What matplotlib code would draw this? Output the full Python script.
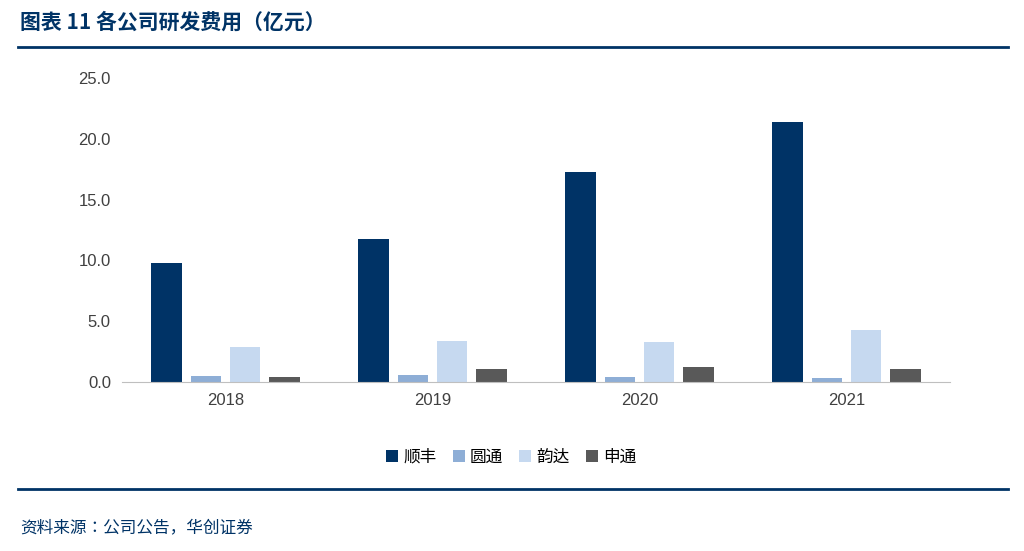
import matplotlib
matplotlib.use("Agg")
import matplotlib.pyplot as plt
from matplotlib import font_manager
import numpy as np
from matplotlib.lines import Line2D

# pick whichever CJK family the font manager actually knows
cjk = [f.name for f in font_manager.fontManager.ttflist if "CJK" in f.name]
pref = [n for n in ["Noto Sans CJK SC", "Noto Sans CJK JP", "Noto Sans CJK TC", "Noto Sans CJK KR"] if n in cjk]
family = (pref or cjk or ["DejaVu Sans"])[:1]
plt.rcParams["font.family"] = family + ["DejaVu Sans"]
plt.rcParams["font.sans-serif"] = family + ["DejaVu Sans"]

years = ["2018", "2019", "2020", "2021"]
companies = ["顺丰", "圆通", "韵达", "申通"]
sf = [9.8, 11.8, 17.3, 21.4]
yto = [0.5, 0.6, 0.4, 0.3]
yunda = [2.9, 3.4, 3.3, 4.3]
sto = [0.4, 1.1, 1.2, 1.1]
colors = ["#003366", "#8eaed6", "#c6d9f0", "#595959"]

W, H = 1024, 551
fig = plt.figure(figsize=(W / 100, H / 100), dpi=100)
ax = fig.add_axes([122 / W, 1 - 382 / H, (950 - 122) / W, (382 - 78) / H])

x = np.arange(len(years))
bw = 0.145
gap = 0.19
for i, (vals, c) in enumerate(zip([sf, yto, yunda, sto], colors)):
    ax.bar(x + (i - 1.5) * gap, vals, width=bw, color=c, label=companies[i])

ax.set_xlim(-0.5, 3.5)
ax.set_ylim(0, 25)
ax.set_yticks(np.arange(0, 25.1, 5))
ax.set_yticklabels([f"{v:.1f}" for v in np.arange(0, 25.1, 5)])
ax.set_xticks(x)
ax.set_xticklabels(years)
ax.tick_params(axis="both", labelsize=12, colors="#404040", length=0, pad=8)
for lab in ax.get_xticklabels() + ax.get_yticklabels():
    lab.set_family("Liberation Sans")
for s in ["top", "right", "left"]:
    ax.spines[s].set_visible(False)
ax.spines["bottom"].set_color("#bfbfbf")
ax.legend(loc="upper center", bbox_to_anchor=(0.47, -0.17), ncol=4, frameon=False,
          fontsize=12, handlelength=0.7, handleheight=0.7, columnspacing=1.0, handletextpad=0.3)

fig.text(20 / W, 1 - 22 / H, "图表 11 各公司研发费用（亿元）", fontsize=15, fontweight="bold",
         color="#003366", va="center", ha="left")
fig.add_artist(Line2D([18 / W, 1008 / W], [1 - 47 / H] * 2, color="#003366", lw=2))
fig.add_artist(Line2D([18 / W, 1008 / W], [1 - 489 / H] * 2, color="#003366", lw=2))
fig.text(20 / W, 1 - 528 / H, "资料来源：公司公告，华创证券", fontsize=12, style="italic",
         color="#003366", va="center", ha="left")

fig.savefig("out.png", dpi=100)
